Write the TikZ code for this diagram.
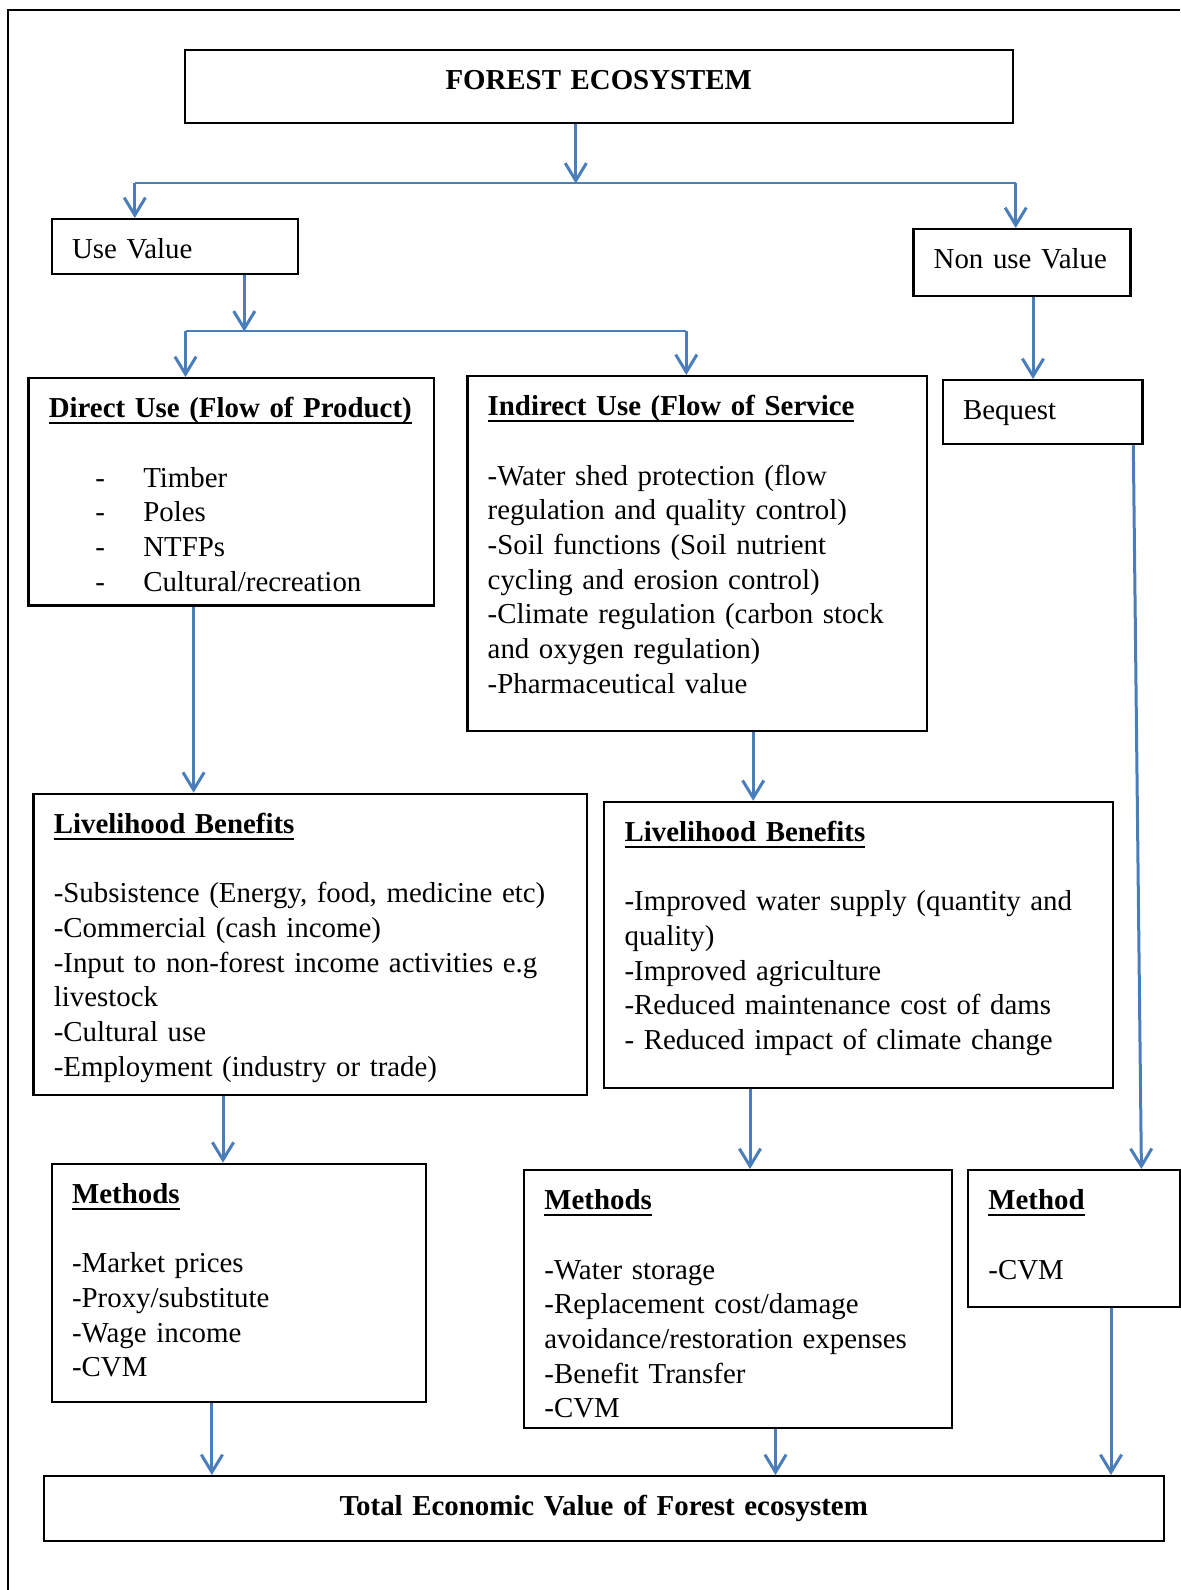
\documentclass[tikz,border=0pt]{standalone}
\usepackage{fontspec}
\setmainfont{Liberation Serif}
\usepackage{tikz}
\usetikzlibrary{arrows.meta}
\definecolor{arrowblue}{HTML}{4A7EBB}
\newsavebox{\hdbox}
\newcommand{\hd}[1]{\sbox{\hdbox}{\textbf{#1}}\rlap{\rule[-2.6pt]{\wd\hdbox}{0.9pt}}\usebox{\hdbox}}
\newcommand{\itm}[1]{\hspace*{18.6pt}\makebox[19.2pt][l]{-}#1}

\begin{document}
\begin{tikzpicture}[x=0.4pt,y=-0.4pt,
                    font=\fontsize{11.55pt}{13.88pt}\selectfont,
                    box/.style={draw,line width=0.9pt,anchor=north west,inner xsep=8.1pt,inner ysep=0pt,
                                text height=15.8pt,align=left},
                    arr/.style={draw=arrowblue,line width=1.2pt,-{Straight Barb[length=7pt,width=8.5pt]}},
                    branch/.style={draw=arrowblue,line width=0.8pt}]
  \useasboundingbox (0,0) rectangle (1180,1590);
  \draw[line width=1pt] (8,1590) -- (8,10) -- (1180,10);

  % top level
  \node[box,align=center,text width=315.1pt,text depth=13.4pt] (forest) at (183.5,48.7) {\textbf{FOREST ECOSYSTEM}};
  \node[box,text width=82.3pt,text depth=6.1pt] (use) at (50.7,218) {Use Value};
  \node[box,text width=70.6pt,text depth=11pt] (nonuse) at (912.3,228) {\mbox{Non use Value}};

  % second level
  \node[box,text width=146pt,text depth=75.1pt] (direct) at (27.4,377)
    {\hd{Direct Use (Flow of Product)}\\[13.88pt]
     \itm{Timber}\\ \itm{Poles}\\ \itm{NTFPs}\\ \itm{Cultural/recreation}};
  \node[box,text width=167.5pt,text depth=126.2pt] (indirect) at (466.3,375)
    {\hd{Indirect Use (Flow of Service}\\[13.88pt]
     -Water shed protection (flow\\
     regulation and quality control)\\
     -Soil functions (Soil nutrient\\
     cycling and erosion control)\\
     -Climate regulation (carbon stock\\
     and oxygen regulation)\\
     -Pharmaceutical value};
  \node[box,text width=63.7pt,text depth=9.8pt] (bequest) at (941.7,379) {Bequest};

  % benefits
  \node[box,text width=205.2pt,text depth=104.6pt] (lbdirect) at (32.4,792.7)
    {\hd{Livelihood Benefits}\\[13.88pt]
     -Subsistence (Energy, food, medicine etc)\\
     -Commercial (cash income)\\
     -Input to non-forest income activities e.g\\
     livestock\\
     -Cultural use\\
     -Employment (industry or trade)};
  \node[box,text width=187.3pt,text depth=98.6pt] (lbindirect) at (603.2,800.8)
    {\hd{Livelihood Benefits}\\[13.88pt]
     -Improved water supply (quantity and\\
     quality)\\
     -Improved agriculture\\
     -Reduced maintenance cost of dams\\
     - Reduced impact of climate change};

  % methods
  \node[box,text width=133.4pt,text depth=79.5pt] (mdirect) at (50.7,1162.7)
    {\hd{Methods}\\[13.88pt]
     -Market prices\\
     -Proxy/substitute\\
     -Wage income\\
     -CVM};
  \node[box,text width=155pt,text depth=87.2pt] (mindirect) at (523,1169)
    {\hd{Methods}\\[13.88pt]
     -Water storage\\
     -Replacement cost/damage\\
     avoidance/restoration expenses\\
     -Benefit Transfer\\
     -CVM};
  \node[box,text width=68.6pt,text depth=38.9pt] (mbequest) at (967,1169)
    {\hd{Method}\\[13.88pt]
     -CVM};

  \node[box,align=center,text width=431.8pt,text depth=10.1pt] (total) at (42.6,1475)
    {\textbf{Total Economic Value of Forest ecosystem}};

  % connectors
  \coordinate (s1) at (575.8,183.5);
  \coordinate (l1) at (134.8,183.5);
  \coordinate (r1) at (1015.7,183.5);
  \draw[branch] (l1) -- (r1);
  \draw[arr] (forest.south -| s1) -- (s1);
  \draw[arr] (l1) -- (l1 |- use.north);
  \draw[arr] (r1) -- (r1 |- nonuse.north);

  \coordinate (s2) at (244.3,331.5);
  \coordinate (l2) at (185.5,331.5);
  \coordinate (r2) at (686.3,331.5);
  \draw[branch] (l2) -- (r2);
  \draw[arr] (use.south -| s2) -- (s2);
  \draw[arr] (l2) -- (l2 |- direct.north);
  \draw[arr] (r2) -- (r2 |- indirect.north);

  \coordinate (c1) at (1033,300);
  \draw[arr] (nonuse.south -| c1) -- (bequest.north -| c1);
  \coordinate (c2) at (193.6,700);
  \draw[arr] (direct.south -| c2) -- (lbdirect.north -| c2);
  \coordinate (c3) at (753.2,760);
  \draw[arr] (indirect.south -| c3) -- (lbindirect.north -| c3);
  \coordinate (c4) at (1133.3,500);
  \coordinate (c5) at (1141.4,1100);
  \draw[arr] (bequest.south -| c4) -- (mbequest.north -| c5);

  \coordinate (c6) at (223,1120);
  \draw[arr] (lbdirect.south -| c6) -- (mdirect.north -| c6);
  \coordinate (c7) at (750,1120);
  \draw[arr] (lbindirect.south -| c7) -- (mindirect.north -| c7);

  \coordinate (c8) at (211.9,1440);
  \draw[arr] (mdirect.south -| c8) -- (total.north -| c8);
  \coordinate (c9) at (775.5,1440);
  \draw[arr] (mindirect.south -| c9) -- (total.north -| c9);
  \coordinate (c10) at (1111,1400);
  \draw[arr] (mbequest.south -| c10) -- (total.north -| c10);
\end{tikzpicture}
\end{document}
